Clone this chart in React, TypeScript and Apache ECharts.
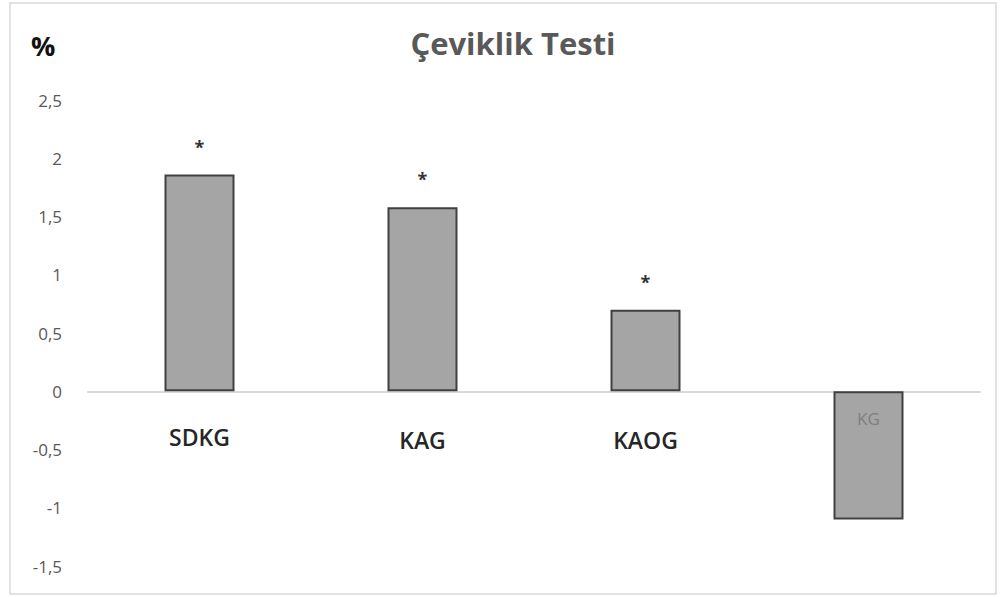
import React, { useEffect, useRef } from "react";
import * as echarts from "echarts";

const categories = ["SDKG", "KAG", "KAOG", "KG"];
const values = [1.86, 1.58, 0.7, -1.1];
const marks = ["*", "*", "*", ""];
const yMin = -1.5;
const yMax = 2.5;
const yStep = 0.5;

export default function App() {
  const ref = useRef<HTMLDivElement>(null);
  useEffect(() => {
    if (!ref.current) return;
    const chart = echarts.init(ref.current, null, { renderer: "svg" });
    const font = "Open Sans";
    const data = values.map((v, i) => {
      if (v >= 0) {
        return {
          value: v,
          label: {
            show: true,
            formatter: categories[i],
            position: "bottom",
            distance: i === 0 ? 34 : 37,
            fontSize: 23,
            fontWeight: 600,
            color: "#262626",
            fontFamily: font,
          },
        };
      }
      return {
        value: v,
        label: {
          show: true,
          formatter: categories[i],
          position: "insideTop",
          distance: 19,
          fontSize: 17,
          color: "#7f7f7f",
          fontFamily: font,
        },
      };
    });
    const markData = values.map((v, i) => ({
      value: v >= 0 ? v : 0,
      label: {
        show: marks[i] !== "",
        formatter: marks[i],
        position: "top",
        distance: 19,
        fontSize: 18,
        fontWeight: "bold",
        color: "#333",
        fontFamily: font,
      },
      itemStyle: { color: "transparent", borderWidth: 0 },
    }));
    chart.setOption({
      animation: false,
      title: {
        text: "Çeviklik Testi",
        left: 508,
        textAlign: "center",
        top: 22,
        textStyle: { fontSize: 31, fontWeight: "bold", color: "#595959", fontFamily: font },
      },
      graphic: [
        {
          type: "rect",
          shape: { x: 10, y: 3, width: 986, height: 591 },
          style: { fill: "none", stroke: "#d9d9d9", lineWidth: 1.5 },
          silent: true,
        },
        {
          type: "text",
          x: 31,
          y: 32,
          style: { text: "%", fontSize: 27, fontWeight: "bold", fill: "#111", fontFamily: font },
        },
      ],
      grid: { left: 88, right: 20, top: 100, bottom: 31, containLabel: false, outerBoundsMode: "none" },
      xAxis: {
        type: "category",
        data: categories,
        axisLine: { show: true, onZero: true, lineStyle: { color: "#d9d9d9", width: 2 } },
        axisTick: { show: false },
        axisLabel: { show: false },
      },
      yAxis: {
        type: "value",
        min: yMin,
        max: yMax,
        interval: yStep,
        axisLine: { show: false },
        axisTick: { show: false },
        splitLine: { show: false },
        axisLabel: {
          margin: 26,
          fontSize: 17,
          color: "#595959",
          fontFamily: font,
          formatter: (v: number) => String(v).replace(".", ","),
        },
      },
      series: [
        {
          type: "bar",
          data,
          barWidth: 70,
          itemStyle: { color: "#a5a5a5", borderColor: "#404040", borderWidth: 2 },
          z: 2,
        },
        {
          type: "bar",
          data: markData,
          barWidth: 70,
          barGap: "-100%",
          silent: true,
          z: 3,
        },
      ],
    });
    return () => chart.dispose();
  }, []);
  return (
    <div
      ref={ref}
      style={{ position: "fixed", left: 0, top: 0, width: 1000, height: 597, background: "#fff" }}
    />
  );
}
